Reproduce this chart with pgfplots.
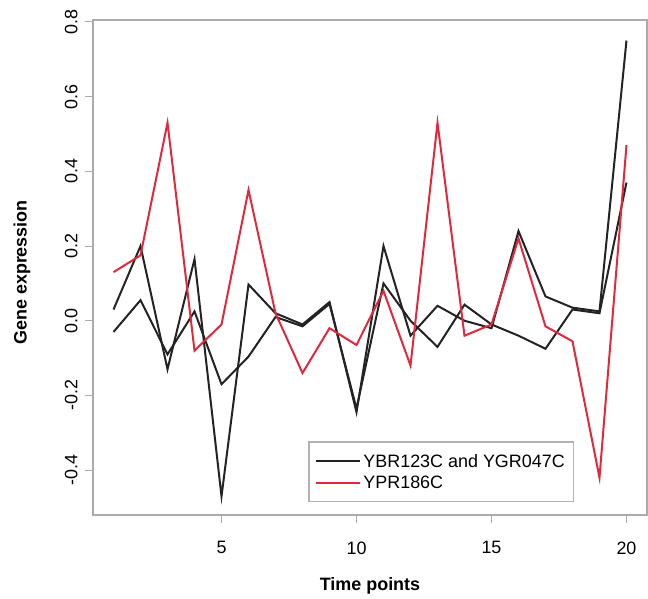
\documentclass[border=0pt]{standalone}
\usepackage{pgfplots}
\pgfplotsset{compat=1.18}
\usepackage{fontspec}
\setmainfont{Liberation Sans}
\definecolor{rline}{RGB}{225,40,60}
\definecolor{kline}{RGB}{35,35,35}

\begin{document}
\begin{tikzpicture}
\begin{axis}[
    name=ax,
    scale only axis,
    width=554bp, height=495bp,
    xmin=0.24, xmax=20.76,
    ymin=-0.52, ymax=0.805,
    xtick={5,10,15,20},
    xticklabels={5,10,15,20},
    ytick={-0.4,-0.2,0,0.2,0.4,0.6,0.8},
    yticklabels={-0.4,-0.2,0.0,0.2,0.4,0.6,0.8},
    tick label style={font=\fontsize{18}{21}\selectfont},
    yticklabel style={rotate=90, anchor=south},
    xticklabel shift=15bp,
    yticklabel shift=4bp,
    axis line style={gray!65, line width=1.2bp},
    tick style={gray!65, line width=1bp},
    tick align=outside, major tick length=8bp,
    xtick pos=left, ytick pos=left,
    xlabel={\textbf{Time points}},
    ylabel={\textbf{Gene expression}},
    label style={font=\fontsize{18}{21}\selectfont},
    xlabel style={at={(axis description cs:0.5,-0.143)}, anchor=center},
    ylabel style={at={(axis description cs:-0.128,0.49)}, anchor=center},
    legend style={at={(axis description cs:0.868,0.026)}, anchor=south east,
        draw=gray!60, line width=1.2bp, font=\fontsize{18}{21}\selectfont,
        inner xsep=6.5bp, inner ysep=10bp, row sep=3bp},
    legend cell align=left,
    legend image code/.code={\draw[#1] (0bp,0bp) -- (32bp,0bp); \path (-5bp,0bp) -- (39bp,0bp);},
]

% YBR123C
\addplot[kline, line width=2bp] coordinates {
    (1,0.03) (2,0.20) (3,-0.13) (4,0.165) (5,-0.47)
    (6,0.097) (7,0.02) (8,-0.01) (9,0.05) (10,-0.245)
    (11,0.20) (12,-0.04) (13,0.04) (14,0.0) (15,-0.02)
    (16,0.24) (17,0.065) (18,0.035) (19,0.025) (20,0.75)
};
\addlegendentry{YBR123C and YGR047C}

% YGR047C
\addplot[kline, line width=2bp, forget plot] coordinates {
    (1,-0.03) (2,0.055) (3,-0.09) (4,0.025) (5,-0.17)
    (6,-0.096) (7,0.01) (8,-0.015) (9,0.045) (10,-0.235)
    (11,0.10) (12,0.0) (13,-0.07) (14,0.043) (15,-0.01)
    (16,-0.04) (17,-0.075) (18,0.03) (19,0.02) (20,0.37)
};

% YPR186C
\addplot[rline, line width=2bp] coordinates {
    (1,0.13) (2,0.175) (3,0.53) (4,-0.08) (5,-0.01)
    (6,0.35) (7,0.02) (8,-0.14) (9,-0.02) (10,-0.065)
    (11,0.08) (12,-0.12) (13,0.53) (14,-0.04) (15,-0.01)
    (16,0.22) (17,-0.015) (18,-0.055) (19,-0.42) (20,0.47)
};
\addlegendentry{YPR186C}

\end{axis}
\pgfresetboundingbox
\path[use as bounding box] ([shift={(-93bp,-84bp)}]ax.south west) rectangle ([shift={(1bp,20bp)}]ax.north east);
\end{tikzpicture}
\end{document}
